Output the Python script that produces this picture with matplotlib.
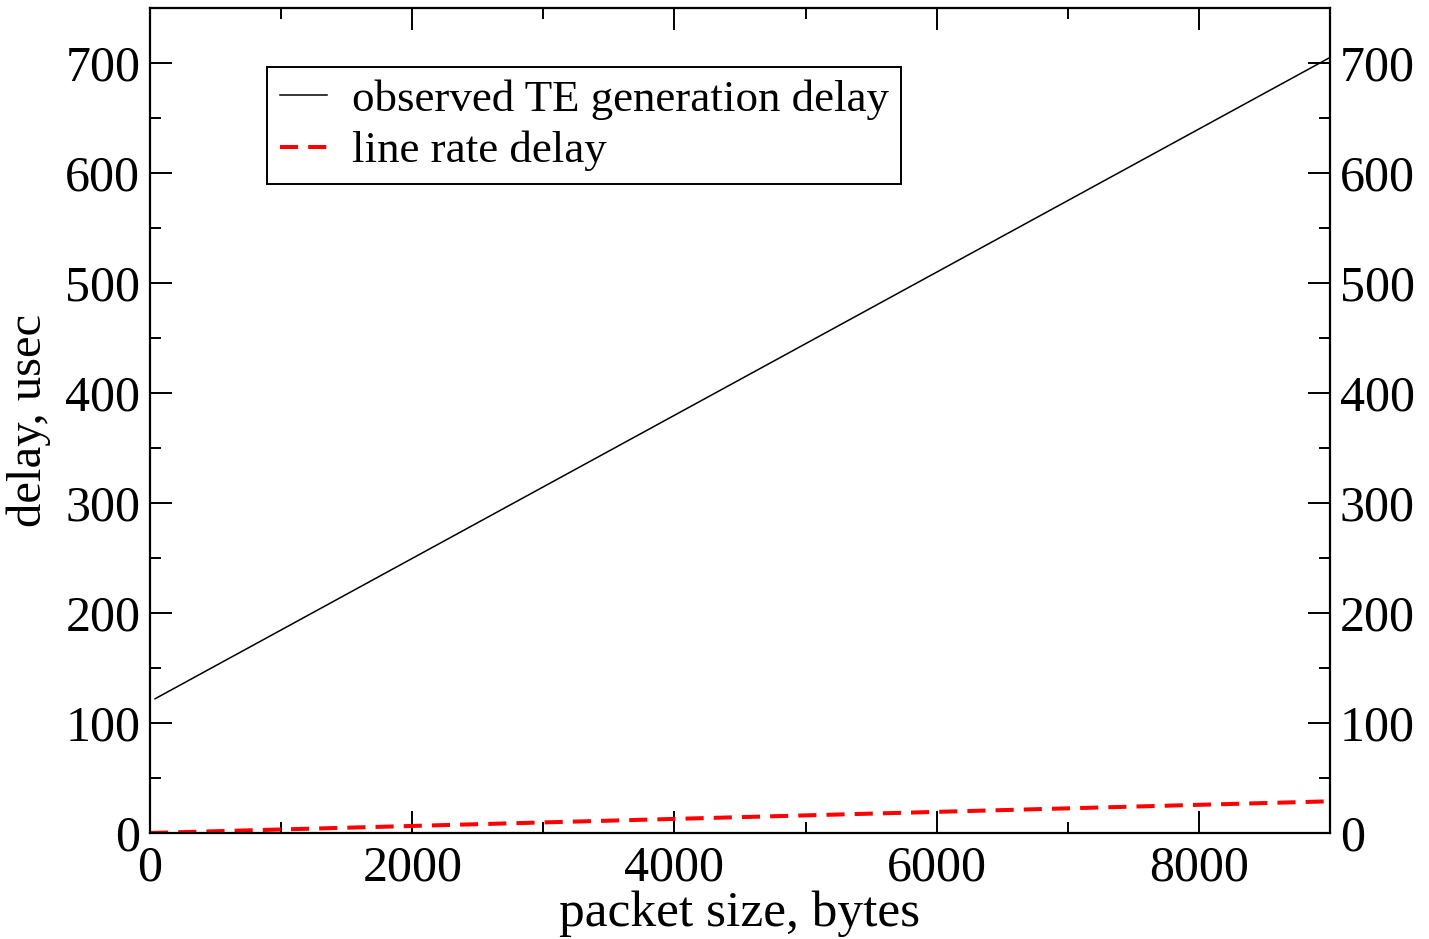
import matplotlib.pyplot as plt
from matplotlib.ticker import MultipleLocator

plt.rcParams['font.family'] = ['Liberation Serif', 'DejaVu Serif']

# Data
observed_size = [38, 9000]
observed_delay = [122, 705]
linerate_size = [0, 9000]
linerate_delay = [0, 28.8]

fig = plt.figure(figsize=(14.29, 9.39), dpi=100)
ax = fig.add_axes([0.105, 0.1129, 0.8257, 0.8786])

ax.plot(observed_size, observed_delay, color='black', lw=1.1,
        label='observed TE generation delay')
ax.plot(linerate_size, linerate_delay, color='red', lw=2.9,
        dashes=(4.5, 2.5), label='line rate delay')

ax.set_xlim(0, 9000)
ax.set_ylim(0, 750)
ax.xaxis.set_major_locator(MultipleLocator(2000))
ax.xaxis.set_minor_locator(MultipleLocator(1000))
ax.yaxis.set_major_locator(MultipleLocator(100))
ax.yaxis.set_minor_locator(MultipleLocator(50))

ax.tick_params(which='both', direction='in', top=True, right=True,
               labelright=True, width=1.4, labelsize=36)
ax.tick_params(axis='y', pad=7)
ax.tick_params(axis='x', pad=9)
ax.tick_params(which='major', length=16)
ax.tick_params(which='minor', length=8)
for s in ax.spines.values():
    s.set_linewidth(1.6)

ax.set_xlabel('packet size, bytes', fontsize=37, labelpad=-1)
ax.set_ylabel('delay, usec', fontsize=35, labelpad=10)

leg = ax.legend(loc='upper left', bbox_to_anchor=(0.0992, 0.9285),
                fontsize=32.4, fancybox=False, framealpha=1, edgecolor='black',
                handlelength=1.05, handletextpad=0.55, borderpad=0.28,
                labelspacing=0.24, borderaxespad=0)
leg.get_frame().set_linewidth(1.4)

fig.savefig('out.png', dpi=100)
